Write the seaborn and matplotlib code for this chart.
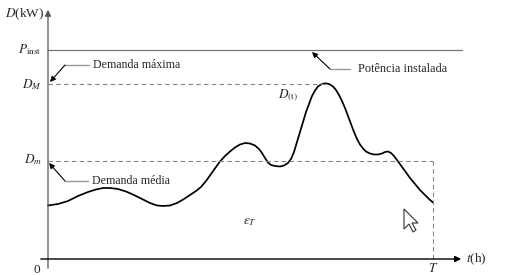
import matplotlib
matplotlib.use("Agg")
import matplotlib.pyplot as plt
import seaborn as sns
import pandas as pd
from matplotlib.patches import Polygon

# ---- data (t and D in arbitrary units)
t_values = [0, 10, 20, 30, 40, 48, 55, 62, 70, 78,
            86, 94, 102, 109, 115, 122, 129, 136, 142, 148,
            153, 158, 163, 168, 172, 177, 182, 187, 192, 197,
            202, 207, 211, 214, 217, 220, 223, 227, 232, 236,
            240, 243, 246, 249, 252, 255, 258, 261, 264, 267,
            270, 273, 276, 279, 282, 285, 288, 291, 294, 297,
            300, 303, 306, 309, 312, 315, 318, 322, 326, 330,
            334, 337, 340, 343, 346, 349, 353, 357, 362, 367,
            372, 377, 381, 385]
D_values = [53.5, 55, 58, 63, 67, 69.5, 71, 71, 70, 67.5,
            64, 60, 56, 53.5, 53, 53.5, 56, 60, 64, 68,
            72, 78, 85, 92, 97.5, 103, 107.5, 111.5, 114.5, 116,
            115.5, 113.5, 110, 106, 101, 96.5, 94, 93, 92.5, 93.5,
            96, 100, 107, 117, 127, 137, 147, 155, 163, 168.5,
            172.5, 174.5, 175.5, 175.5, 174.5, 172.5, 169, 164, 158, 151,
            143, 135, 127, 120, 114.5, 110.5, 107.5, 105.5, 104.5, 104.5,
            105.5, 107, 107.5, 106, 103, 99, 93.5, 88, 81, 75,
            69, 64, 60, 56.5]
P_inst = 209
D_max = 175.5
t_peak = 279
D_med = 98
T_end = 385

sns.set_theme(style="white")
plt.rcParams["mathtext.fontset"] = "stix"
plt.rcParams["font.family"] = ["Liberation Serif", "DejaVu Serif"]

fig = plt.figure(figsize=(5.09, 2.75), dpi=100)
ax = fig.add_axes([0, 0, 1, 1])
ax.set_xlim(-48, 461)
ax.set_ylim(-16, 259)
ax.axis("off")

df = pd.DataFrame({"t": t_values, "D": D_values})
sns.lineplot(data=df, x="t", y="D", ax=ax, color="black", lw=1.25)

# axes with arrows
ax.annotate("", xy=(0, 252), xytext=(0, -12),
            arrowprops=dict(arrowstyle="-|>", color="#555555", lw=0.9, mutation_scale=9))
ax.annotate("", xy=(416, 0), xytext=(-10, 0),
            arrowprops=dict(arrowstyle="-|>", color="black", lw=1.0, mutation_scale=9))

# reference lines
ax.plot([0, 414], [P_inst, P_inst], color="#777777", lw=0.9)
ax.plot([0, t_peak], [D_max, D_max], color="#888888", lw=0.8, ls=(0, (4, 3)))
ax.plot([0, T_end], [D_med, D_med], color="#888888", lw=0.8, ls=(0, (4, 3)))
ax.plot([T_end, T_end], [D_med, 0], color="#888888", lw=0.8, ls=(0, (4, 3)))

fs = 9.5
ax.text(-43, 245, r"$D$(kW)", fontsize=fs, va="center", ha="left")
ax.text(-6, P_inst, r"$P_{\rm inst}$", fontsize=fs, va="center", ha="right")
ax.text(-6, D_max - 1, r"$D_M$", fontsize=fs, va="center", ha="right")
ax.text(-6, D_med + 1, r"$D_m$", fontsize=fs, va="center", ha="right")
ax.text(-11, -11, "0", fontsize=fs, va="center", ha="center")
ax.text(T_end, -9, r"$T$", fontsize=fs, va="center", ha="center")
ax.text(418, 0, r"$t$(h)", fontsize=fs, va="center", ha="left")
ax.text(230, 164, r"$D_{(\rm t)}$", fontsize=fs, va="center", ha="left")
ax.text(202, 37, r"$\varepsilon_T$", fontsize=fs, va="center", ha="center")

# callouts
ax.text(45, 194, "Demanda máxima", fontsize=8.6, va="center", ha="left")
ax.plot([17, 41], [194, 194], color="#999999", lw=1.0)
ax.annotate("", xy=(2, 177), xytext=(17, 194),
            arrowprops=dict(arrowstyle="-|>", color="black", lw=0.8, mutation_scale=8,
                            shrinkA=0, shrinkB=0))

ax.text(44, 78, "Demanda média", fontsize=8.6, va="center", ha="left")
ax.plot([17, 40], [78, 78], color="#999999", lw=1.0)
ax.annotate("", xy=(1, 96), xytext=(17, 78),
            arrowprops=dict(arrowstyle="-|>", color="black", lw=0.8, mutation_scale=8,
                            shrinkA=0, shrinkB=0))

ax.text(310, 190, "Potência instalada", fontsize=8.8, va="center", ha="left")
ax.plot([282, 302], [190, 190], color="#999999", lw=1.0)
ax.annotate("", xy=(264, 207), xytext=(282, 190),
            arrowprops=dict(arrowstyle="-|>", color="black", lw=0.8, mutation_scale=8,
                            shrinkA=0, shrinkB=0))

# mouse cursor glyph
cursor = [(356, 50), (356, 30), (361, 35), (365, 27), (368, 29), (364, 36), (370, 36)]
ax.add_patch(Polygon(cursor, closed=True, facecolor="white", edgecolor="#333333", lw=0.8))

fig.savefig("out.png", dpi=100)
